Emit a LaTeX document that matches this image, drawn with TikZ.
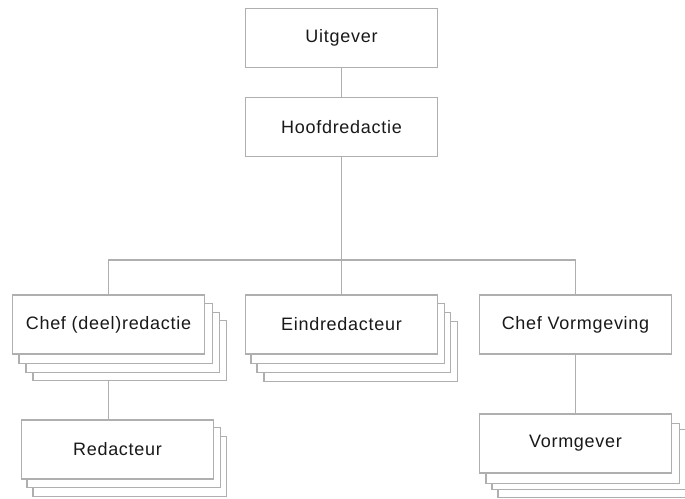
\documentclass[tikz,border=0pt]{standalone}
\usepackage{fontspec}
\setmainfont{Liberation Sans}[LetterSpace=4]
\definecolor{linegray}{RGB}{175,175,175}
\definecolor{txt}{RGB}{25,25,25}
\tikzset{
  unit/.style={draw=linegray, line width=1.2pt, fill=white, rectangle,
    minimum width=192pt, minimum height=59pt, inner sep=0pt,
    font=\fontsize{18}{21}\selectfont, text=txt},
  layer/.style={draw=linegray, line width=1.2pt, fill=white},
  conn/.style={draw=linegray, line width=1.2pt}
}
\begin{document}
\begin{tikzpicture}[x=1pt,y=-1pt]
\useasboundingbox (0,0) rectangle (685,498);
\clip (0,0) rectangle (685,498);
% node positions (centres)
\coordinate (pU) at (341.5,38);
\coordinate (pH) at (341.5,127);
\coordinate (pC) at (108.5,324.5);
\coordinate (pE) at (341.5,324.5);
\coordinate (pV) at (575.5,324.5);
\coordinate (pR) at (117.5,449.5);
\coordinate (pG) at (575.5,443.5);
\coordinate (bus) at (341.5,260);
% invisible placeholders for routing connectors
\node[unit, draw=none, fill=none] (u0) at (pU) {};
\node[unit, draw=none, fill=none] (h0) at (pH) {};
\node[unit, draw=none, fill=none] (c0) at (pC) {};
\node[unit, draw=none, fill=none] (e0) at (pE) {};
\node[unit, draw=none, fill=none] (v0) at (pV) {};
\node[unit, draw=none, fill=none] (r0) at (pR) {};
\node[unit, draw=none, fill=none] (g0) at (pG) {};
% connectors (drawn first, hidden by white boxes)
\draw[conn] (u0.south) -- (h0.north);
\draw[conn] (h0.south) -- (bus);
\draw[conn] (c0.north) -- (c0.north |- bus) -- (v0.north |- bus) -- (v0.north);
\draw[conn] (bus) -- (e0.north);
\draw[conn] (c0.south) -- (c0.south |- r0.north);
\draw[conn] (v0.south) -- (g0.north);
% stacked layers (back to front)
\foreach \dx/\dy in {21/26,14/18,7/9}
  \draw[layer] ([shift={(\dx,\dy)}]c0.north west) rectangle ([shift={(\dx,\dy)}]c0.south east);
\foreach \dx/\dy in {19/27,12/18,6/9}
  \draw[layer] ([shift={(\dx,\dy)}]e0.north west) rectangle ([shift={(\dx,\dy)}]e0.south east);
\foreach \dx/\dy in {12/17,6/8}
  \draw[layer] ([shift={(\dx,\dy)}]r0.north west) rectangle ([shift={(\dx,\dy)}]r0.south east);
\foreach \dx/\dy in {19/24,13/16,7/10}
  \draw[layer] ([shift={(\dx,\dy)}]g0.north west) rectangle ([shift={(\dx,\dy)}]g0.south east);
% front boxes
\node[unit] (u) at (pU) {Uitgever};
\node[unit] (h) at (pH) {Hoofdredactie};
\node[unit] (c) at (pC) {Chef (deel)redactie};
\node[unit] (e) at (pE) {Eindredacteur};
\node[unit] (v) at (pV) {Chef Vormgeving};
\node[unit] (r) at (pR) {Redacteur};
\node[unit] (g) at (pG) {Vormgever};
\end{tikzpicture}
\end{document}
